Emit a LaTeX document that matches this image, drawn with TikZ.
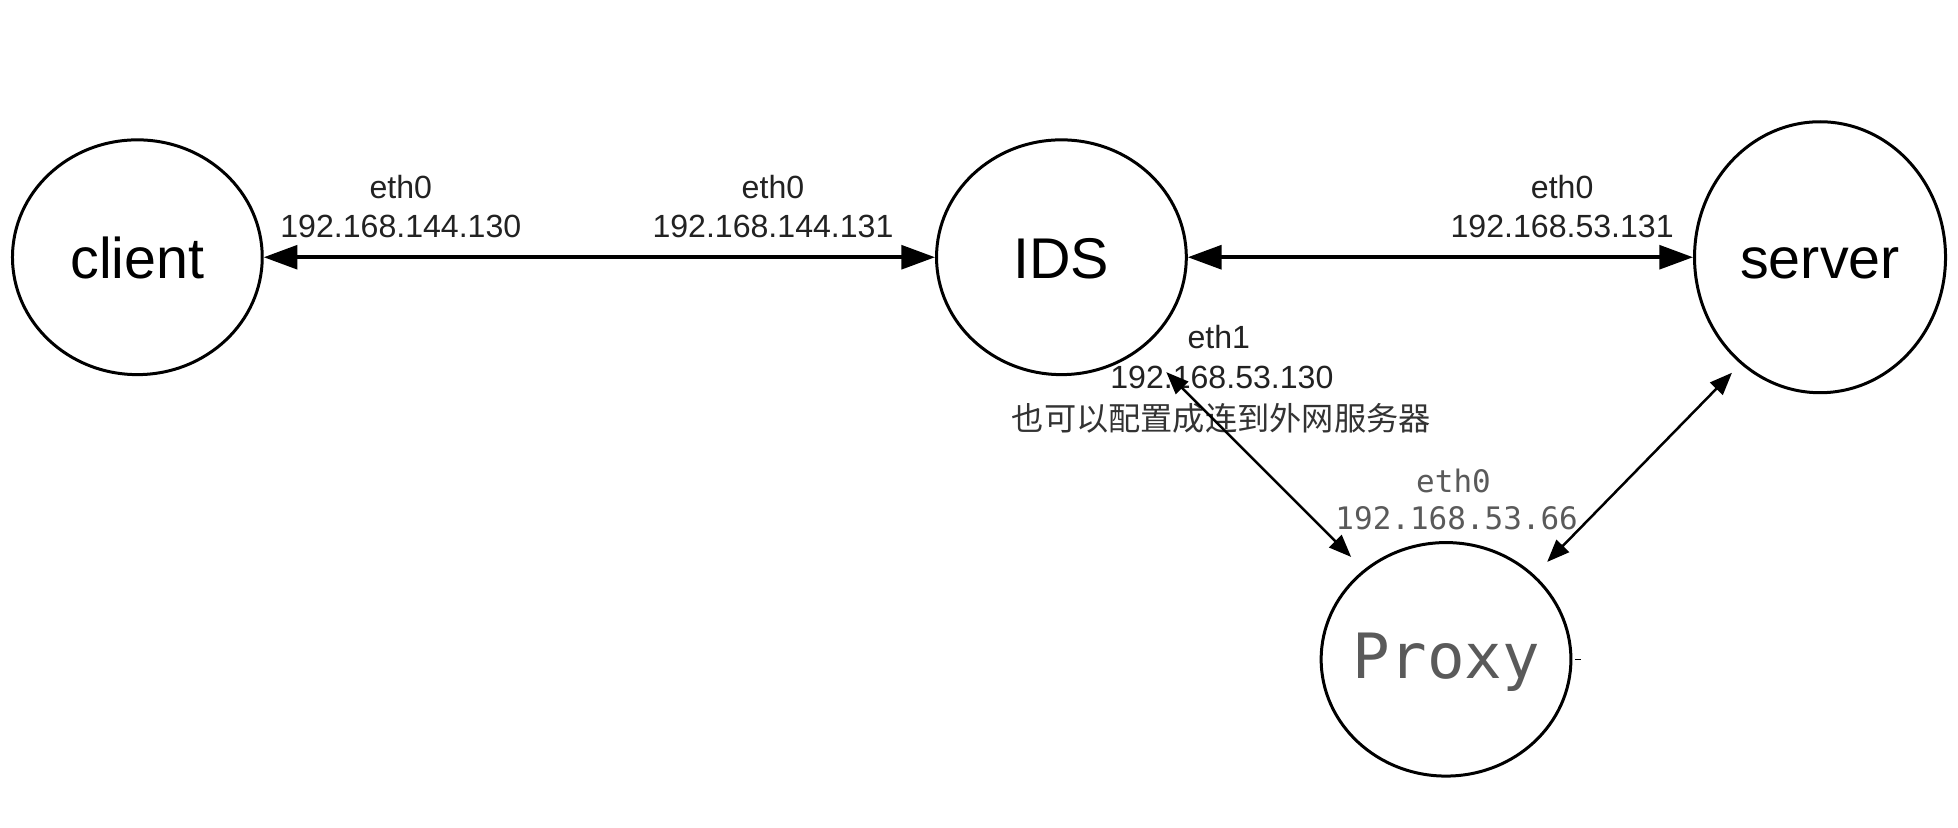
\documentclass[tikz,border=0pt]{standalone}
\usepackage{fontspec}
\setmainfont{Liberation Sans}
\newfontfamily\cjkfont{Noto Sans CJK SC}
\newfontfamily\monofont{DejaVu Sans Mono}
\usetikzlibrary{shapes.geometric,arrows.meta}
\definecolor{labelgray}{HTML}{222222}
\definecolor{cjkgray}{HTML}{333333}
\definecolor{monogray}{HTML}{5A5A5A}
\begin{document}
\begin{tikzpicture}[x=1pt,y=-1pt,
  host/.style={draw=black,ellipse,line width=2.4pt,inner sep=0pt,
    minimum width=200pt,minimum height=188pt,
    font=\fontsize{46}{50}\selectfont,text height=34pt,text depth=0pt},
  small/.style={font=\fontsize{25.7}{30}\selectfont,anchor=base,text=labelgray,inner sep=0pt},
  cjklabel/.style={font=\cjkfont\fontsize{25.8}{30}\selectfont,anchor=base,text=cjkgray,inner sep=0pt},
  monolabel/.style={font=\monofont\fontsize{24.8}{30}\selectfont,anchor=base,text=monogray,inner sep=0pt},
  hline/.style={line width=3pt,{Triangle[length=27pt,width=19pt]}-{Triangle[length=27pt,width=19pt]}},
  dline/.style={line width=2pt,{Triangle[length=18pt,width=14pt]}-{Triangle[length=18pt,width=14pt]}}
]
\useasboundingbox (0,0) rectangle (1568,663);
\fill[white] (0,0) rectangle (1568,663);

% hosts
\node[host] (client) at (110,206) {client};
\node[host] (IDS) at (850,206) {IDS};
\node[host,minimum width=201pt,minimum height=217pt] (server) at (1457.5,206) {server};
\node[host,minimum width=200pt,minimum height=187pt,
      font=\monofont\fontsize{50}{54}\selectfont,text=monogray,
      text height=36pt,text depth=6pt] (Proxy) at (1158,528) {\makebox[0pt][c]{Proxy}};

% labels
\node[small] (c0a) at (321,159) {eth0};
\node[small] (c0b) at (321,190) {192.168.144.130};
\node[small] (i0a) at (619,159) {eth0};
\node[small] (i0b) at (619,190) {192.168.144.131};
\node[small] (s0a) at (1251,159) {eth0};
\node[small] (s0b) at (1251,190) {192.168.53.131};
\node[small] (i1a) at (976,279) {eth1};
\node[small] (i1b) at (978.5,311) {192.168.53.130};
\node[cjklabel] (i1c) at (978,345) {也可以配置成连到外网服务器};
\node[monolabel] (p0a) at (1164,394) {eth0};
\node[monolabel] (p0b) at (1166.5,424) {192.168.53.66};

% connector ends
\coordinate (idsP) at ([shift={(84,92)}]IDS.center);
\coordinate (proxyI) at ([shift={(-76,-82)}]Proxy.center);
\coordinate (serverP) at ([shift={(-70.5,92.5)}]server.center);
\coordinate (proxyS) at ([shift={(81,-78)}]Proxy.center);

% connectors
\draw[hline] (client) -- (IDS);
\draw[hline] (IDS) -- (server);
\draw[dline] (idsP) -- (proxyI);
\draw[dline] (serverP) -- (proxyS);

% small tick right of Proxy
\draw[line width=1pt] ([xshift=2pt]Proxy.east) -- ++(5,0);
\end{tikzpicture}
\end{document}
